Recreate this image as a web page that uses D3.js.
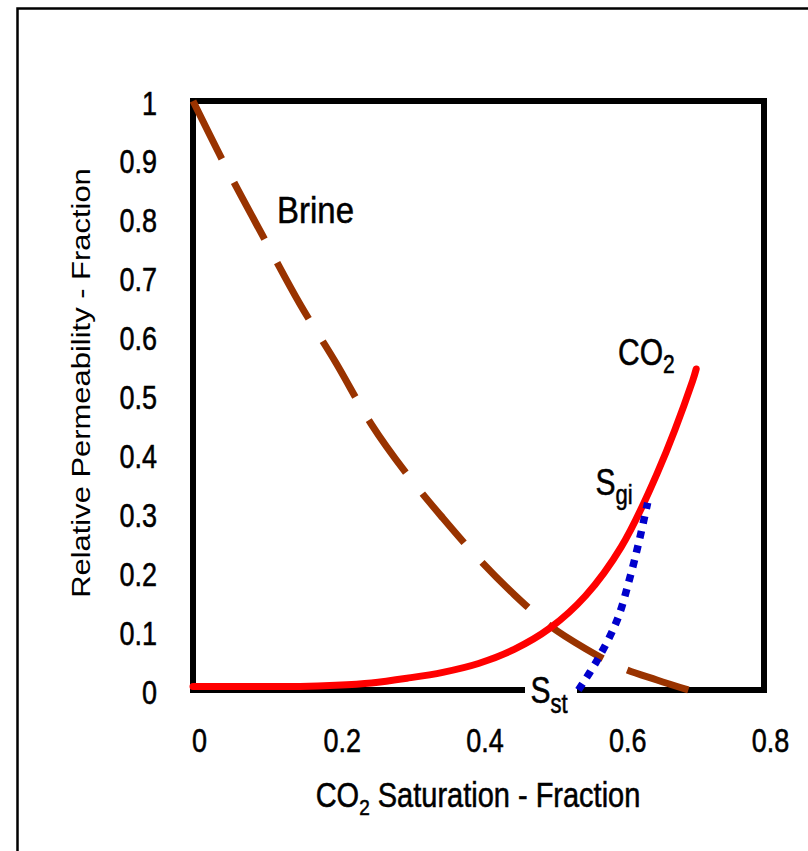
<!DOCTYPE html>
<html>
<head>
<meta charset="utf-8">
<script src="https://cdn.jsdelivr.net/npm/d3@7"></script>
<style>
  body { margin: 0; background: #fff; }
  svg { display: block; }
  text { font-family: "Liberation Sans", Arial, sans-serif; fill: #000; }
  text.heavy { stroke: #000; stroke-width: 0.45px; }
</style>
</head>
<body>
<svg id="chart" width="808" height="851"></svg>
<script>
// Axis ticks
const satTicks = [0, 0.2, 0.4, 0.6, 0.8];
const satTickLabels = ["0", "0.2", "0.4", "0.6", "0.8"];
const permTicks = [0, 0.1, 0.2, 0.3, 0.4, 0.5, 0.6, 0.7, 0.8, 0.9, 1];
const permTickLabels = ["0", "0.1", "0.2", "0.3", "0.4", "0.5", "0.6", "0.7", "0.8", "0.9", "1"];

// Brine (wetting phase) relative permeability vs CO2 saturation
const brineSat = [0, 0.05, 0.1, 0.15, 0.2, 0.25, 0.3, 0.35, 0.4, 0.45, 0.5, 0.55, 0.6, 0.65, 0.694];
const brineKr  = [1.0, 0.879, 0.766, 0.655, 0.556, 0.451, 0.366, 0.292, 0.223, 0.162, 0.109, 0.070, 0.038, 0.017, 0];

// CO2 drainage relative permeability
const co2Sat = [0, 0.05, 0.1, 0.15, 0.2, 0.25, 0.3, 0.35, 0.4, 0.45, 0.5, 0.55, 0.6, 0.65, 0.7, 0.705];
const co2Kr  = [0.006, 0.006, 0.006, 0.006, 0.008, 0.012, 0.02, 0.03, 0.045, 0.069, 0.105, 0.16, 0.243, 0.367, 0.525, 0.545];

// CO2 imbibition scanning curve from Sgi down to the trapped saturation Sst
const scanSat = [0.54, 0.566, 0.594, 0.612, 0.626, 0.637];
const scanKr  = [0, 0.05, 0.118, 0.19, 0.258, 0.318];

const svg = d3.select("#chart");
const stretch = 1.22;

const x = d3.scaleLinear().domain([0, 0.8]).range([193, 764]);
const y = d3.scaleLinear().domain([0, 1]).range([690, 101]);

// outer page border
svg.append("rect")
  .attr("x", 17.5).attr("y", 8.5).attr("width", 1000).attr("height", 1000)
  .attr("fill", "none").attr("stroke", "#000").attr("stroke-width", 2.5);

// x axis labels
const gx = svg.append("g").attr("transform", `translate(0,${y(0)})`)
  .call(d3.axisBottom(x).tickValues(satTicks).tickFormat((d, i) => satTickLabels[i]).tickSize(0));
gx.select(".domain").remove();
gx.selectAll("text")
  .attr("class", "heavy")
  .attr("y", 0).attr("dy", null)
  .attr("font-size", 27).attr("font-family", null).attr("fill", "#000")
  .attr("transform", `translate(6,62) scale(1,${stretch})`);

// y axis labels
const gy = svg.append("g").attr("transform", `translate(${x(0)},0)`)
  .call(d3.axisLeft(y).tickValues(permTicks).tickFormat((d, i) => permTickLabels[i]).tickSize(0));
gy.select(".domain").remove();
gy.selectAll("text")
  .attr("class", "heavy")
  .attr("x", 0).attr("dy", null)
  .attr("font-size", 27).attr("font-family", null).attr("fill", "#000")
  .attr("text-anchor", "end")
  .attr("transform", `translate(-36,13) scale(1,${stretch})`);
svg.selectAll(".tick line").remove();

// plot frame
svg.append("rect")
  .attr("x", x(0)).attr("y", y(1))
  .attr("width", x(0.8) - x(0)).attr("height", y(0) - y(1))
  .attr("fill", "none").attr("stroke", "#000").attr("stroke-width", 6);

// clear the axis line behind the Sst label
svg.append("rect")
  .attr("x", 525).attr("y", 668).attr("width", 52).attr("height", 48)
  .attr("fill", "#fff");

const line = d3.line().x(d => x(d[0])).y(d => y(d[1])).curve(d3.curveMonotoneX);
const smooth = d3.line().x(d => x(d[0])).y(d => y(d[1])).curve(d3.curveCatmullRom.alpha(0.5));

// brine: long dashes, the last one finishing at the end of the curve
const brinePath = svg.append("path")
  .datum(brineSat.map((s, i) => [s, brineKr[i]]))
  .attr("d", line)
  .attr("fill", "none").attr("stroke", "#993300").attr("stroke-width", 7)
  .attr("stroke-linecap", "butt");
const brineLen = brinePath.node().getTotalLength();
const nDash = 9, dashLen = 63, gapLen = 26;
const k = brineLen / (nDash * dashLen + (nDash - 1) * gapLen);
brinePath.attr("stroke-dasharray", `${dashLen * k},${gapLen * k}`);

svg.append("path")
  .datum(co2Sat.map((s, i) => [s, co2Kr[i]]))
  .attr("d", smooth)
  .attr("fill", "none").attr("stroke", "#ff0000").attr("stroke-width", 7)
  .attr("stroke-linecap", "round");

svg.append("path")
  .datum(scanSat.map((s, i) => [s, scanKr[i]]))
  .attr("d", smooth)
  .attr("fill", "none").attr("stroke", "#0000cc").attr("stroke-width", 7.5)
  .attr("stroke-dasharray", "7.5,7.5").attr("stroke-linecap", "butt");

// axis titles
const yTitle = svg.append("g").attr("transform", "translate(90,383) rotate(-90) scale(1.19,1)");
yTitle.append("text").attr("text-anchor", "middle").attr("font-size", 26)
  .text("Relative Permeability - Fraction");

const xTitle = svg.append("g").attr("transform", "translate(478,807) scale(1,1.2)")
  .append("text").attr("class", "heavy").attr("text-anchor", "middle").attr("font-size", 29);
xTitle.append("tspan").text("CO");
xTitle.append("tspan").attr("font-size", 19).attr("dy", 7).text("2");
xTitle.append("tspan").attr("dy", -7).text(" Saturation - Fraction");

// curve annotations
function label(px, py, main, sub, mainSize, subSize, subDy, sy) {
  const t = svg.append("g").attr("transform", `translate(${px},${py}) scale(1,${sy})`)
    .append("text").attr("class", "heavy").attr("font-size", mainSize);
  t.append("tspan").text(main);
  if (sub) t.append("tspan").attr("font-size", subSize).attr("dy", subDy).text(sub);
}
label(277, 223, "Brine", null, 33, 0, 0, 1.12);
label(618, 365, "CO", "2", 30, 21, 7, 1.2);
label(595.5, 495, "S", "gi", 30, 22, 7, stretch);
label(530.5, 703, "S", "st", 30, 22, 8, stretch);
</script>
</body>
</html>
